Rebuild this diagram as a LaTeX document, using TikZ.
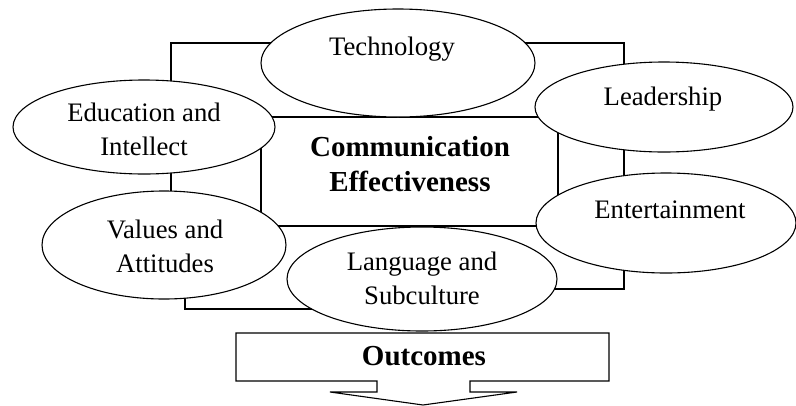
\documentclass[tikz,border=0pt]{standalone}
\usepackage{fontspec}
\setmainfont{Liberation Serif}
\usetikzlibrary{shapes.geometric}
\tikzset{
  oval/.style={draw, ellipse, fill=white, line width=1.1pt, inner sep=0pt},
  frame/.style={draw, line width=1.1pt},
  lbl/.style={align=center, inner sep=0pt, font=\fontsize{26.7}{34}\selectfont},
  boldlbl/.style={align=center, inner sep=0pt, font=\fontsize{29}{35}\selectfont\bfseries}
}

\begin{document}
\begin{tikzpicture}[x=1pt,y=-1pt]
\useasboundingbox (0,0) rectangle (796,405);

\draw[frame] (171,43) -- (624,43) -- (624,289) -- (420,289) -- (420,309) -- (185,309) -- (185,230) -- (171,230) -- cycle;
\node[frame, minimum width=297pt, minimum height=109pt, inner sep=0pt] (comm) at (409.5,171.5) {};

\node[oval, minimum width=274pt, minimum height=108pt] (tech) at (398,63) {};
\node[oval, minimum width=262pt, minimum height=94pt] (edu) at (144,127) {};
\node[oval, minimum width=258pt, minimum height=90pt] (lead) at (664,107) {};
\node[oval, minimum width=244pt, minimum height=108pt] (val) at (164,245) {};
\node[oval, minimum width=270pt, minimum height=104pt] (lang) at (422,279) {};
\node[oval, minimum width=260pt, minimum height=100pt] (ent) at (666,223) {};

\draw[frame] (236,333) -- (609,333) -- (609,381) -- (470,381) -- (470,392) -- (517,392) -- (423,405)
  -- (330,392) -- (377,392) -- (377,381) -- (236,381) -- cycle;

\node[boldlbl] (comm-l) at (410,164) {Communication\\Effectiveness};
\node[lbl] (tech-l) at (392,49) {Technology};
\node[lbl] (edu-l) at (144,129) {Education and\\Intellect};
\node[lbl] (lead-l) at (663,99) {Leadership};
\node[lbl] (val-l) at (165,246) {Values and\\Attitudes};
\node[lbl] (lang-l) at (422,278) {Language and\\Subculture};
\node[lbl] (ent-l) at (670,210) {Entertainment};
\node[boldlbl] (out-l) at (424,356) {Outcomes};
\end{tikzpicture}
\end{document}
